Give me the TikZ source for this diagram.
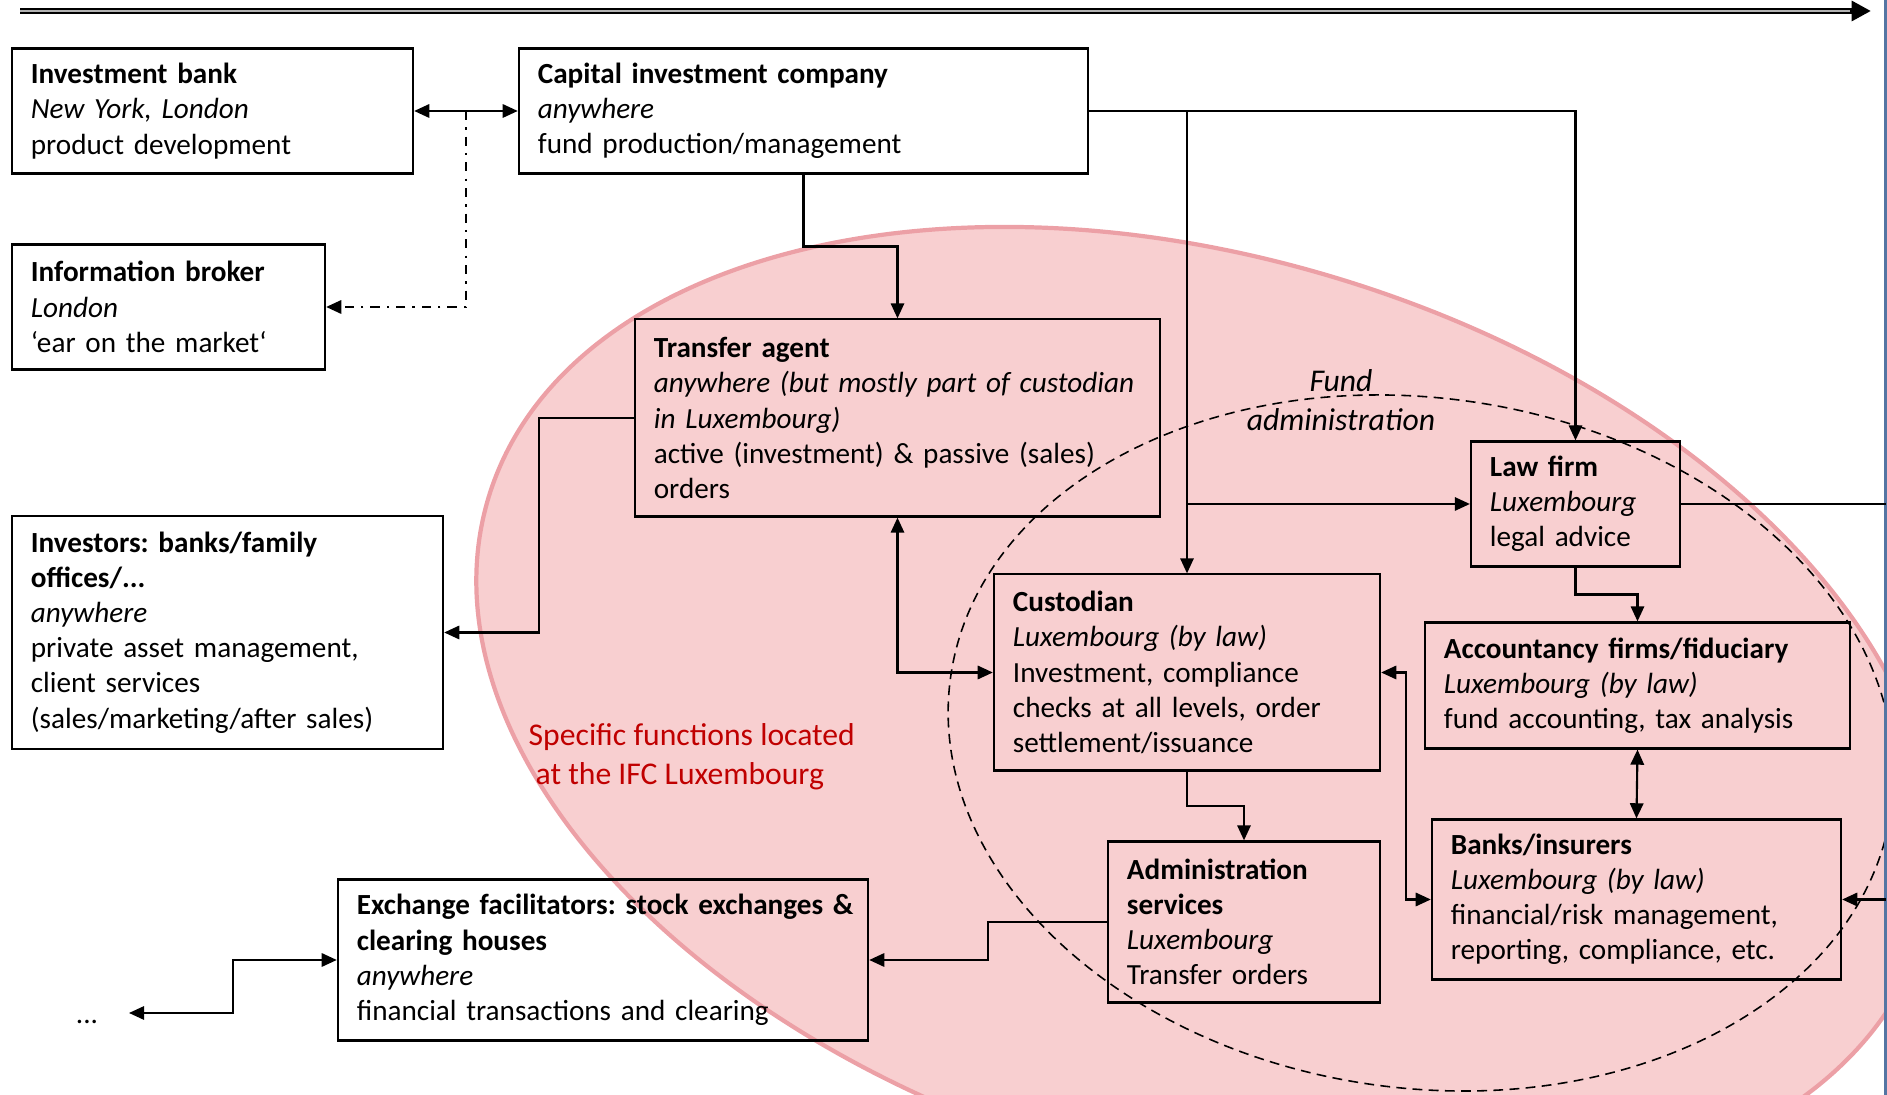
\documentclass[tikz,border=0pt]{standalone}
\usepackage{fontspec}
\setmainfont{Carlito}
\usetikzlibrary{arrows.meta,calc}
\frenchspacing

\definecolor{ifcpink}{RGB}{248,207,208}
\definecolor{ifcrim}{RGB}{236,160,166}
\definecolor{ifcred}{RGB}{192,0,0}
\definecolor{slideedge}{RGB}{84,117,163}

\tikzset{
  >={Triangle[length=4.3pt,width=3.8pt]},
  box/.style={draw, line width=0.6pt, inner xsep=0.19cm, inner ysep=0pt, align=left,
    font=\fontsize{8.3pt}{10pt}\selectfont},
  link/.style={line width=0.6pt},
  infolink/.style={line width=0.6pt, dash pattern=on 2.6pt off 2pt on 0.7pt off 2pt},
  ifczone/.style={fill=ifcpink, draw=ifcrim, line width=1.2pt},
  fundzone/.style={draw, line width=0.45pt, dash pattern=on 2.8pt off 1.8pt},
}

\begin{document}
\begin{tikzpicture}[x=0.01cm, y=-0.01cm]
  \useasboundingbox (0,0) rectangle (1887,1095);

  % IFC area and fund administration
  \begin{scope}
    \clip (0,0) rectangle (1887,1095);
    \draw[ifczone, rotate around={-17:(1206,716)}] (1206,716) ellipse [x radius=750, y radius=457];
    \draw[fundzone, rotate around={-8:(1421,743)}] (1421,743) ellipse [x radius=475, y radius=345];
  \end{scope}

  % time line and slide edge
  \coordinate (tlstart) at (20,11);
  \coordinate (tlend) at (1871,11);
  \draw[line width=1.7pt, -{Triangle[length=5.5pt,width=5.5pt]}] (tlstart) -- (tlend);
  \draw[gray!60, line width=0.45pt, shorten >=6pt] (tlstart) -- (tlend);
  \coordinate (edgetop) at (1885.5,0);
  \coordinate (edgebot) at (1885.5,1095);
  \draw[slideedge, line width=0.8pt] (edgetop) -- (edgebot);

  % actors
  \node[box, text width=3.63cm, minimum height=1.25cm] (ib) at (212.5,111)
    {\textbf{Investment bank}\\\textit{New York, London}\\product development};
  \node[box, text width=5.31cm, minimum height=1.25cm] (cic) at (803.5,111)
    {\textbf{Capital investment company}\\\textit{anywhere}\\fund production/management};
  \node[box, text width=2.75cm, minimum height=1.25cm] (ibr) at (168.5,307)
    {\textbf{Information broker}\\\textit{London}\\‘ear on the market‘};
  \node[box, text width=4.87cm, minimum height=1.97cm] (ta) at (897.5,418)
    {\textbf{Transfer agent}\\\textit{anywhere (but mostly part of custodian}\\\textit{in Luxembourg)}\\active (investment) \& passive (sales)\\orders};
  \node[box, text width=3.93cm, minimum height=2.32cm] (inv) at (227.5,632.5)
    {\textbf{Investors: banks/family}\\\textbf{offices/...}\\\textit{anywhere}\\private asset management,\\client services\\(sales/marketing/after sales)};
  \node[box, text width=1.71cm, minimum height=1.25cm] (lf) at (1575.5,504)
    {\textbf{Law firm}\\\textit{Luxembourg}\\legal advice};
  \node[box, text width=3.48cm, minimum height=1.96cm] (cust) at (1187,672.5)
    {\textbf{Custodian}\\\textit{Luxembourg (by law)}\\Investment, compliance\\checks at all levels, order\\settlement/issuance};
  \node[box, text width=3.87cm, minimum height=1.26cm] (acc) at (1637.5,685.5)
    {\textbf{Accountancy firms/fiduciary}\\\textit{Luxembourg (by law)}\\fund accounting, tax analysis};
  \node[box, text width=3.71cm, minimum height=1.60cm] (banks) at (1636.5,899.5)
    {\textbf{Banks/insurers}\\\textit{Luxembourg (by law)}\\financial/risk management,\\reporting, compliance, etc.};
  \node[box, text width=2.34cm, minimum height=1.61cm] (admin) at (1244,922)
    {\textbf{Administration}\\\textbf{services}\\\textit{Luxembourg}\\Transfer orders};
  \node[box, text width=5.02cm, inner xsep=0.14cm, minimum height=1.61cm] (exch) at (603,960)
    {\hspace*{0.05cm}\textbf{Exchange facilitators: stock exchanges \&}\\\hspace*{0.05cm}\textbf{clearing houses}\\\hspace*{0.05cm}\textit{anywhere}\\\hspace*{0.05cm}financial transactions and clearing};
  \node[font=\fontsize{8.3pt}{10pt}\selectfont] (dots) at (87,1022) {...};

  % area labels
  \node[font=\fontsize{9pt}{11pt}\selectfont\itshape, align=center] (fundlabel) at (1341,400) {Fund\\administration};
  \node[font=\fontsize{9pt}{11pt}\selectfont, text=ifcred, align=left, anchor=west, inner sep=0pt] (ifclabel) at (528,757)
    {Specific functions located\\\hspace*{0.07cm}at the IFC Luxembourg};

  % connections
  \coordinate (split) at ($(ib.east)!.5!(cic.west)$);
  \coordinate (more) at (129,1013);
  \draw[link,<->] (ib) -- (cic);
  \draw[infolink,->] (split) |- (ibr.east);
  \draw[link,->] (cic.south) |- ($(cic.south)!.5!(ta.north)$) -| (ta.north);
  \draw[link,->] (cic.east) -| (lf.north);
  \draw[link,->] (cic.east -| cust.north) -- (cust.north);
  \draw[link,->] (lf.west -| cust.north) -- (lf.west);
  \draw[link,->] (ta.west) -| ($(ta.west)!.5!(inv.east)$) |- (inv.east);
  \draw[link,<->] (ta.south) |- (cust.west);
  \draw[link,->] (cust.south) |- ($(cust.south)!.5!(admin.north)$) -| (admin.north);
  \draw[link,<->] (cust.east) -| ($(cust.east)!.5!(banks.west)$) |- (banks.west);
  \draw[link,->] (lf.south) |- ($(lf.south)!.5!(acc.north)$) -| (acc.north);
  \draw[link,<->] (acc.south) -- (banks.north);
  \draw[link] (lf.east) -- (lf.east -| edgetop);
  \draw[link,->] (banks.east -| edgetop) -- (banks.east);
  \draw[link,->] (admin.west) -| ($(admin.west)!.5!(exch.east)$) |- (exch.east);
  \draw[link,<->] (more) -| ($(more)!.5!(exch.west)$) |- (exch.west);
\end{tikzpicture}
\end{document}
